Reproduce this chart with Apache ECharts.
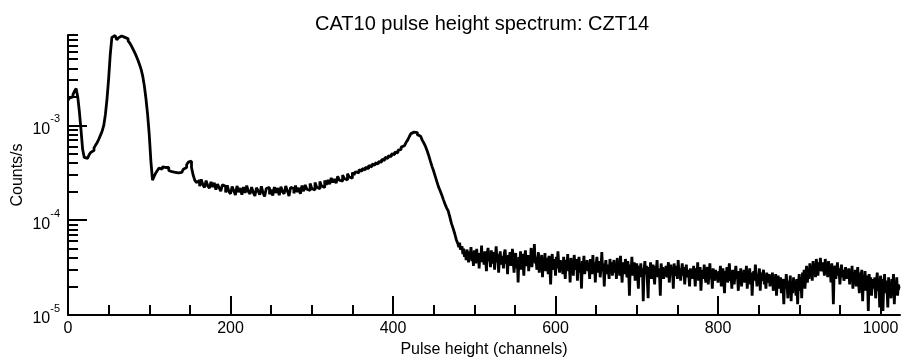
<!DOCTYPE html>
<html><head><meta charset="utf-8">
<script src="https://cdn.jsdelivr.net/npm/echarts@6/dist/echarts.min.js"></script>
<style>html,body{margin:0;padding:0;background:#fff}#c{width:904px;height:362px}</style>
</head><body><div id="c"></div>
<script>
const chartTitle = 'CAT10 pulse height spectrum: CZT14';
const xName = 'Pulse height (channels)';
const yName = 'Counts/s';
const valueUnit = 1e-6;    // all rates below are in 1e-6 counts/s

// channels 0..479, one value per 2-channel bin (16 bins = 32 channels per row)
const coarseBinWidth = 2;
const rateCoarse = [
  1850,1950,2000,2100,2300,2450,2000,1400,900,560,460,450,470,490,520,545,
  580,620,660,720,790,870,1000,1300,1900,3100,5600,8500,8900,8700,8000,8400,
  8800,8700,8500,8400,8200,7800,7400,6900,6400,5900,5400,4900,4400,3900,3300,2600,
  1900,1300,800,420,265,290,315,335,355,345,365,360,350,360,335,325,
  310,320,305,315,325,320,330,345,360,385,410,420,360,300,265,250,
  262,228,270,236,222,262,230,218,254,224,248,210,240,220,202,236,
  228,196,234,200,190,226,206,184,230,198,218,186,224,194,232,200,
  190,224,196,180,220,204,186,228,194,178,216,222,188,210,182,224,
  194,219,184,226,200,190,230,204,180,222,216,192,232,198,220,190,
  232,202,236,212,206,244,216,208,250,224,214,256,230,222,262,236,
  266,240,280,250,272,246,290,264,258,300,276,266,310,286,278,318,
  300,325,315,340,328,352,338,362,350,378,365,390,380,402,392,415,
  410,438,428,460,450,478,470,500,492,522,515,545,560,590,610,640,
  660,700,760,820,850,810,840,800,770,740,700,650,600,540,480,420,
  370,330,290,255,225,205,185,165,148,135,125,108,92,82,72,62
];

// channels 480..1023, one value per channel (32 channels per row)
const fineStart = 480;
const rateFine = [
  56,52,58,49,47,53,44,50,41,46,38,49,43,36,47,40,52,37,44,33,48,41,35,50,39,45,31,43,38,54,36,42,
  34,47,39,29,44,51,37,42,32,48,40,35,46,30,41,53,36,44,28,39,47,34,42,38,31,45,49,35,40,27,43,37,
  46,33,39,50,36,28,42,45,31,38,22,41,35,47,30,44,37,26,40,48,33,36,43,29,39,34,51,32,45,38,56,35,
  41,30,37,46,28,39,34,43,25,38,32,45,29,36,40,27,42,33,21,37,44,30,35,39,26,41,31,47,34,28,38,32,
  36,27,41,33,24,38,31,44,29,35,22,40,32,37,26,43,34,30,39,23,36,41,28,33,19,37,31,42,27,35,30,38,
  29,35,24,39,32,27,43,30,36,22,34,41,28,33,37,25,31,46,29,35,20,32,38,27,34,30,24,39,31,36,26,33,
  38,28,33,24,40,30,35,26,42,29,22,36,31,27,39,33,25,37,30,16,34,28,41,26,32,36,23,30,35,27,19,33,
  29,35,25,31,14,30,37,27,33,23,15,32,28,36,24,30,34,26,21,33,29,38,25,31,27,16,35,28,32,24,30,27,
  33,25,30,36,22,28,34,27,31,19,35,26,29,33,24,38,27,31,23,29,35,26,32,21,28,34,25,30,27,20,31,26,
  29,24,33,27,20,31,25,36,23,28,32,18,27,30,24,34,26,22,29,32,21,27,35,24,28,19,31,26,23,30,25,28,
  22,29,26,33,20,27,31,24,17,29,25,32,22,28,35,23,27,19,30,25,21,28,33,24,26,18,29,23,31,20,27,24,
  30,22,26,33,19,27,24,31,21,28,16,25,29,23,34,26,20,27,24,31,18,28,23,26,30,21,25,19,28,24,22,27,
  20,25,22,28,18,24,21,27,16,23,26,19,22,25,17,24,20,13,24,19,27,21,15,23,18,26,14,22,17,25,19,23,
  16,24,13,22,27,18,25,15,28,21,30,19,26,33,22,29,24,35,27,31,23,37,28,34,25,39,30,26,36,29,40,31,
  29,36,31,26,39,30,34,25,37,28,32,22,35,27,13,30,33,24,29,36,26,31,21,28,34,25,30,23,27,32,24,29,
  26,31,21,28,24,33,19,27,23,30,20,26,32,22,17,28,25,30,14,24,21,29,18,26,23,11,27,20,25,16,24,22,
  19,25,15,22,28,18,23,12,26,20,24,11,21,27,17,23,19,12,25,18,22,15,24,20,27,13,22,18,25,16,21,19
];

const xMin = 0, xMax = 1024;
const yMin = 1e-5, yMax = 9e-3;
const xMajorTicks = [0, 200, 400, 600, 800, 1000];
const xMinorTicks = [50, 100, 150, 250, 300, 350, 450, 500, 550, 650, 700, 750, 850, 900, 950];
const yMajorTicks = [1e-5, 1e-4, 1e-3];
const yMinorTicks = [2e-5,3e-5,4e-5,5e-5,6e-5,7e-5,8e-5,9e-5,
                     2e-4,3e-4,4e-4,5e-4,6e-4,7e-4,8e-4,9e-4,
                     2e-3,3e-3,4e-3,5e-3,6e-3,7e-3,8e-3,9e-3];

const FONT = '"Liberation Sans", Arial, Helvetica, sans-serif';
const data = rateCoarse.map((v, i) => [i * coarseBinWidth, v * valueUnit])
  .concat(rateFine.map((v, i) => [fineStart + i, v * valueUnit]));
data.push([xMax, rateFine[rateFine.length - 1] * valueUnit]);

const tickStyle = { color: '#000', width: 2 };
const chart = echarts.init(document.getElementById('c'), null, { renderer: 'canvas' });
chart.setOption({
  animation: false,
  backgroundColor: '#fff',
  title: {
    text: chartTitle, left: 310, top: 9,
    textStyle: { fontFamily: FONT, fontSize: 20, fontWeight: 'normal', color: '#000' }
  },
  grid: { left: 68, right: 4, top: 35, bottom: 47, containLabel: false, outerBoundsMode: 'none' },
  xAxis: [{
    type: 'value', min: xMin, max: xMax, position: 'bottom',
    name: xName, nameLocation: 'middle', nameGap: 27, nameMoveOverlap: false,
    nameTextStyle: { fontFamily: FONT, fontSize: 16, color: '#000' },
    axisLine: { show: true, lineStyle: { color: '#000', width: 2 } },
    axisTick: { show: true, inside: true, length: 19, lineStyle: tickStyle, customValues: xMajorTicks },
    axisLabel: { show: true, margin: 6, fontFamily: FONT, fontSize: 16, color: '#000',
                 customValues: xMajorTicks, formatter: v => String(v) },
    splitLine: { show: false }
  }, {
    type: 'value', min: xMin, max: xMax, position: 'bottom',
    axisLine: { show: false },
    axisTick: { show: true, inside: true, length: 10, lineStyle: tickStyle, customValues: xMinorTicks },
    axisLabel: { show: false },
    splitLine: { show: false }
  }],
  yAxis: [{
    type: 'log', logBase: 10, min: yMin, max: yMax, position: 'left',
    name: yName, nameLocation: 'middle', nameGap: 42, nameRotate: 90, nameMoveOverlap: false,
    nameTextStyle: { fontFamily: FONT, fontSize: 16, color: '#000' },
    axisLine: { show: true, lineStyle: { color: '#000', width: 2 } },
    axisTick: { show: true, inside: true, length: 19, lineStyle: tickStyle, customValues: yMajorTicks },
    axisLabel: {
      show: true, margin: 8, customValues: yMajorTicks,
      formatter: v => '{b|10}{s|' + Math.round(Math.log10(v)) + '}',
      rich: {
        b: { fontFamily: FONT, fontSize: 16, color: '#000', verticalAlign: 'bottom', lineHeight: 24 },
        s: { fontFamily: FONT, fontSize: 11, color: '#000', verticalAlign: 'top', lineHeight: 24 }
      }
    },
    splitLine: { show: false }
  }, {
    type: 'log', logBase: 10, min: yMin, max: yMax, position: 'left',
    axisLine: { show: false },
    axisTick: { show: true, inside: true, length: 10, lineStyle: tickStyle, customValues: yMinorTicks },
    axisLabel: { show: false },
    splitLine: { show: false }
  }],
  series: [{
    type: 'line', step: 'end', xAxisIndex: 0, yAxisIndex: 0,
    data: data, showSymbol: false, symbol: 'none',
    lineStyle: { color: '#000', width: 2.8 },
    z: 3
  }]
});
</script></body></html>
